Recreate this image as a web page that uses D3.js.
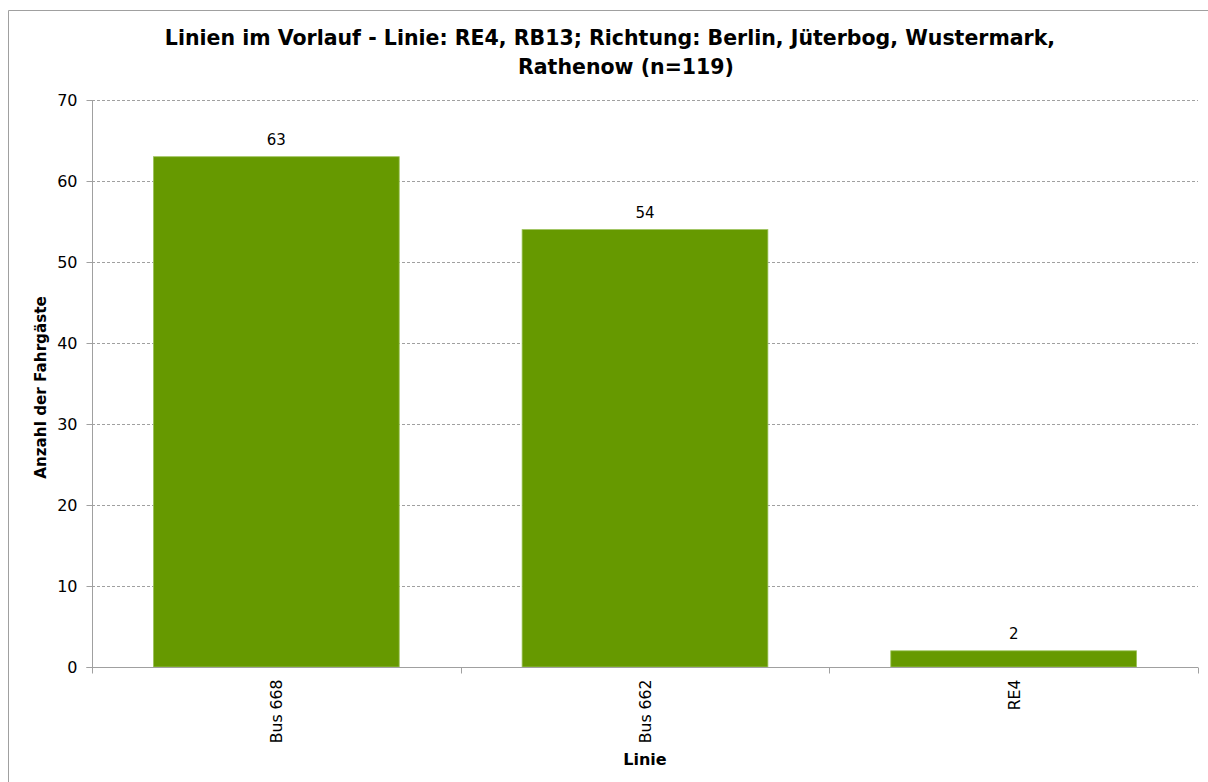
<!DOCTYPE html>
<html><head><meta charset="utf-8">
<script src="https://cdn.jsdelivr.net/npm/d3@7"></script>
<style>body{margin:0;background:#fff}svg{display:block}text{font-family:"DejaVu Sans",Verdana,sans-serif}</style>
</head><body>
<svg id="c" width="1208" height="782"></svg>
<script>
const categories = ["Bus 668", "Bus 662", "RE4"];
const values = [63, 54, 2];
const yTicks = [0, 10, 20, 30, 40, 50, 60, 70];
const titleLines = ["Linien im Vorlauf - Linie: RE4, RB13; Richtung: Berlin, Jüterbog, Wustermark,", "Rathenow (n=119)"];
const xTitle = "Linie";
const yTitle = "Anzahl der Fahrgäste";

(function () {
const svg = d3.select("#c");
const pL = 92, pR = 1198, pT = 100, pB = 667;

svg.append("path").attr("d", "M8.5,782V10.5H1208").attr("fill", "none").attr("stroke", "#a0a0a0").attr("stroke-width", 1);

const x = d3.scaleBand().domain(categories).range([pL, pR]).paddingInner(1/3).paddingOuter(1/6);
const xb = d3.scaleBand().domain(categories).range([pL, pR]);
const y = d3.scaleLinear().domain([0, 70]).range([pB, pT]);

// gridlines
svg.append("g").selectAll("line").data(yTicks.filter(d => d > 0)).join("line")
  .attr("x1", pL).attr("x2", pR)
  .attr("y1", d => Math.round(y(d)) + 0.5).attr("y2", d => Math.round(y(d)) + 0.5)
  .attr("stroke", "#a0a0a0").attr("stroke-dasharray", "3,2");

// bars
svg.append("g").selectAll("rect").data(values).join("rect")
  .attr("x", (d, i) => x(categories[i])).attr("width", x.bandwidth())
  .attr("y", d => y(d)).attr("height", d => y(0) - y(d))
  .attr("fill", "#669900").attr("stroke", "#9cc35a").attr("stroke-width", 0.8);

// data labels
svg.append("g").selectAll("text").data(values).join("text")
  .attr("x", (d, i) => x(categories[i]) + x.bandwidth() / 2)
  .attr("y", d => y(d) - 12)
  .attr("text-anchor", "middle").attr("font-size", 15).attr("fill", "#000")
  .text(d => d);

// y axis
const ya = svg.append("g").attr("transform", `translate(${pL + 0.5},0)`)
  .call(d3.axisLeft(y).tickValues(yTicks).tickSize(6).tickPadding(9));
ya.select(".domain").attr("stroke", "#a0a0a0").attr("d", `M-6,${Math.round(y(0))+0.5}H0V${pT}`);
ya.selectAll(".tick line").attr("stroke", "#a0a0a0");
ya.selectAll(".tick text").attr("font-size", 16).attr("fill", "#000").attr("font-family", "DejaVu Sans");

// x axis
const xa = svg.append("g").attr("transform", `translate(0,${Math.round(y(0)) + 0.5})`);
xa.append("line").attr("x1", pL).attr("x2", pR).attr("stroke", "#a0a0a0");
xa.selectAll("line.t").data(d3.range(categories.length + 1)).join("line").attr("class", "t")
  .attr("x1", i => Math.round(pL + i * xb.bandwidth()) + 0.5).attr("x2", i => Math.round(pL + i * xb.bandwidth()) + 0.5)
  .attr("y1", 0).attr("y2", 6).attr("stroke", "#a0a0a0");
xa.selectAll("text.l").data(categories).join("text").attr("class", "l")
  .attr("transform", d => `translate(${xb(d) + xb.bandwidth() / 2 + 6},12) rotate(-90)`)
  .attr("text-anchor", "end").attr("font-size", 15.7).attr("fill", "#000")
  .text(d => d);

// axis titles
svg.append("text").attr("x", xb(categories[1]) + xb.bandwidth() / 2).attr("y", 765)
  .attr("text-anchor", "middle").attr("font-size", 16).attr("font-weight", "bold").text(xTitle);
svg.append("text").attr("transform", `translate(46,${(pT + pB) / 2 + 4}) rotate(-90)`)
  .attr("text-anchor", "middle").attr("font-size", 15.2).attr("font-weight", "bold").text(yTitle);

// title
const tcent = [610, 626];
const tys = [45, 74];
titleLines.forEach((t, i) => {
  svg.append("text").attr("x", tcent[i]).attr("y", tys[i]).attr("text-anchor", "middle")
    .attr("font-size", 20.5).attr("font-weight", "bold").attr("fill", "#000").text(t);
});
})();
</script>
</body></html>
